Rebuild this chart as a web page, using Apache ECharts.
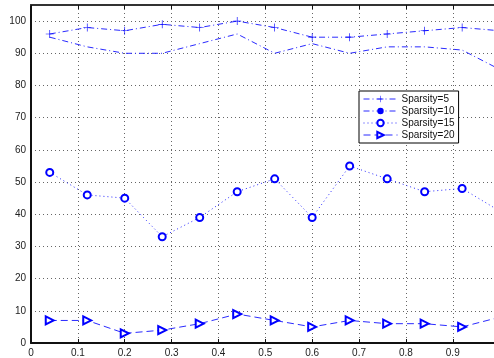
<!DOCTYPE html>
<html><head><meta charset="utf-8">
<script src="https://cdn.jsdelivr.net/npm/echarts@6/dist/echarts.min.js"></script>
<style>html,body{margin:0;padding:0;background:#fff}#c{width:494px;height:358px}</style>
</head><body><div id="c"></div>
<script>
var xs = [0.04,0.12,0.20,0.28,0.36,0.44,0.52,0.60,0.68,0.76,0.84,0.92,1.00];
var s5  = [96,98,97,99,98,100,98,95,95,96,97,98,97];
var s10 = [95,92,90,90,93,96,90,93,90,92,92,91,85];
var s15 = [53,46,45,33,39,47,51,39,55,51,47,48,41];
var s20 = [7,7,3,4,6,9,7,5,7,6,6,5,8];
var names = ['Sparsity=5','Sparsity=10','Sparsity=15','Sparsity=20'];
var yTicks = [0,10,20,30,40,50,60,70,80,90,100];
var xTicks = [0,0.1,0.2,0.3,0.4,0.5,0.6,0.7,0.8,0.9];

function pairs(v){ return xs.map(function(x,i){return [x,v[i]];}); }
var blue = '#0000ff';
var lineBlue = '#2a2aff';
var font = 'Liberation Sans, Arial, sans-serif';
var chart = echarts.init(document.getElementById('c'));
chart.setOption({
  animation:false,
  backgroundColor:'#fff',
  grid:{left:31,top:5,right:0,bottom:14,show:false},
  xAxis:[{
    type:'value',min:0,max:0.988,interval:0.1,position:'bottom',
    axisLine:{show:true,onZero:false,lineStyle:{color:'#111',width:2}},
    axisTick:{show:true,inside:true,length:4,lineStyle:{color:'#111'}},
    axisLabel:{color:'#222',fontSize:10,fontFamily:font,margin:5,showMaxLabel:false,
      formatter:function(v){var r=Math.round(v*10)/10; return (Math.abs(r-v)<1e-6 && xTicks.indexOf(r)>=0)?String(r):'';}},
    splitLine:{show:true,showMaxLine:false,lineStyle:{color:'#666',type:[1,3],width:1}}
  },{
    type:'value',min:0,max:0.988,interval:0.1,position:'top',
    axisLine:{show:true,onZero:false,lineStyle:{color:'#333',width:2}},
    axisTick:{show:true,inside:true,length:4,lineStyle:{color:'#111'}},
    axisLabel:{show:false},splitLine:{show:false}
  }],
  yAxis:{
    type:'value',min:0,max:105,interval:10,
    axisLine:{show:true,onZero:false,lineStyle:{color:'#111',width:2}},
    axisTick:{show:false},
    axisLabel:{color:'#222',fontSize:10,fontFamily:font,margin:5,showMaxLabel:false,
      formatter:function(v){return yTicks.indexOf(v)>=0?String(v):'';}},
    splitLine:{show:true,lineStyle:{color:'#666',type:[1,3],width:1}}
  },
  legend:{
    orient:'vertical',left:359,top:91,itemGap:2,itemWidth:34,itemHeight:8,
    padding:[3,4,3,4],
    backgroundColor:'#fff',borderColor:'#000',borderWidth:1,borderRadius:0,
    lineStyle:{width:1},
    itemStyle:{borderWidth:1},
    textStyle:{color:'#111',fontSize:10,fontFamily:font,padding:[0,0,0,-1]},
    data:names
  },
  series:[
    {name:names[0],type:'line',data:pairs(s5),color:blue,
     symbol:'path://M0,4.6H10V5.4H0Z M4.6,0H5.4V10H4.6Z',symbolSize:8,
     itemStyle:{color:blue},lineStyle:{color:lineBlue,width:1,type:[6,3,1,3]}},
    {name:names[1],type:'line',data:pairs(s10),color:blue,
     symbol:'none',
     itemStyle:{color:blue},lineStyle:{color:lineBlue,width:1,type:[6,3,1,3]}},
    {name:names[2],type:'line',data:pairs(s15),color:blue,
     symbol:'emptyCircle',symbolSize:7,
     itemStyle:{color:blue,borderWidth:1},lineStyle:{color:lineBlue,width:1,type:[1,3]}},
    {name:names[3],type:'line',data:pairs(s20),color:blue,
     symbol:'emptyTriangle',symbolRotate:-90,symbolSize:8,
     itemStyle:{color:blue,borderWidth:1},lineStyle:{color:lineBlue,width:1,type:[7,4]}}
  ]
});
</script></body></html>
